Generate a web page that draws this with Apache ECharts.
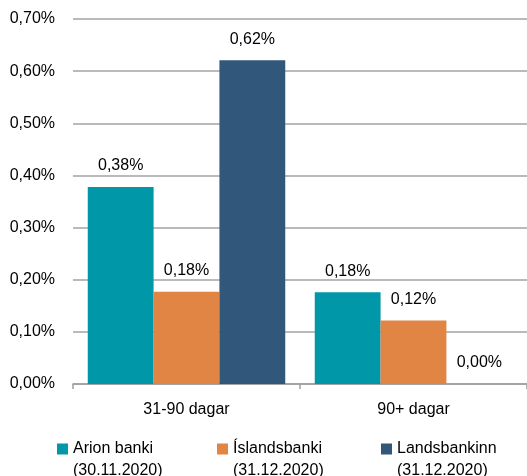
<!DOCTYPE html>
<html>
<head>
<meta charset="utf-8">
<script src="https://cdn.jsdelivr.net/npm/echarts@6/dist/echarts.min.js"></script>
<style>html,body{margin:0;padding:0;background:#fff}#c{width:527px;height:476px}</style>
</head>
<body>
<div id="c"></div>
<script>
var categories = ['31-90 dagar', '90+ dagar'];
var seriesNames = ['Arion banki\n(30.11.2020)', 'Íslandsbanki\n(31.12.2020)', 'Landsbankinn\n(31.12.2020)'];
var arion = [0.378, 0.176];
var islandsbanki = [0.177, 0.122];
var landsbankinn = [0.621, 0.0];
var yTicks = [0, 0.1, 0.2, 0.3, 0.4, 0.5, 0.6, 0.7];

var colors = ['#0097A9', '#E08544', '#31577A'];
var FONT = 'Liberation Sans';
var TXT = '#000';
function pct(v) { return (Math.round(v * 100) / 100).toFixed(2).replace('.', ',') + '%'; }

var seriesData = [arion, islandsbanki, landsbankinn];
var series = seriesData.map(function (d, i) {
  return {
    name: seriesNames[i], type: 'bar', data: d,
    barGap: '0%', barCategoryGap: '13%',
    itemStyle: { color: colors[i] },
    label: { show: true, position: 'top', distance: 13, color: TXT, fontFamily: FONT, fontSize: 16,
      formatter: function (p) { return pct(p.value); } },
    emphasis: { disabled: true }, animation: false
  };
});
var legendLefts = [57, 217, 381];
var legends = seriesNames.map(function (n, i) {
  return {
    data: [n], left: legendLefts[i], top: 416, padding: 0,
    icon: 'rect', itemWidth: 11, itemHeight: 11,
    formatter: function (name) { return ' \n' + name; },
    textStyle: { fontFamily: FONT, fontSize: 16, color: TXT, lineHeight: 22 },
    selectedMode: false
  };
});

var chart = echarts.init(document.getElementById('c'));
chart.setOption({
  animation: false,
  textStyle: { fontFamily: FONT },
  grid: { left: 73, right: -2, top: 19, bottom: 92, containLabel: false },
  xAxis: {
    type: 'category', data: categories,
    axisLine: { lineStyle: { color: '#9f9f9f', width: 1.5 } },
    axisTick: { show: true, length: 5, lineStyle: { color: '#9f9f9f', width: 1.5 } },
    axisLabel: { color: TXT, fontFamily: FONT, fontSize: 16, margin: 18 }
  },
  yAxis: {
    type: 'value', min: 0, max: 0.7, interval: 0.1,
    axisLine: { show: false }, axisTick: { show: false },
    splitLine: { lineStyle: { color: '#a3a3a3', width: 1.5 } },
    axisLabel: { color: TXT, fontFamily: FONT, fontSize: 16, margin: 18,
      formatter: function (v) { return pct(v); } }
  },
  legend: legends,
  series: series
});
</script>
</body>
</html>
